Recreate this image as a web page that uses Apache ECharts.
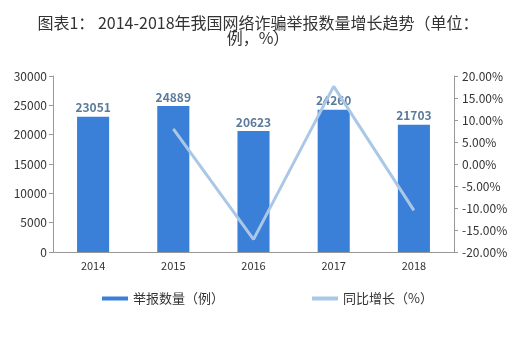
<!DOCTYPE html>
<html><head><meta charset="utf-8">
<script src="https://cdn.jsdelivr.net/npm/echarts@6/dist/echarts.min.js"></script>
<style>html,body{margin:0;padding:0;background:#fff}#c{width:516px;height:362px}</style>
</head><body><div id="c"></div>
<script>
var categories = ['2014','2015','2016','2017','2018'];
var reports = [23051, 24889, 20623, 24260, 21703];
var growth = [null, 7.97, -17.14, 17.64, -10.54];
var leftTicks = [0, 30000, 5000];
var rightTicks = [-20, 20, 5];

var chart = echarts.init(document.getElementById('c'));
var font = '"Noto Sans CJK SC","DejaVu Sans",sans-serif';
chart.setOption({
  animation: false,
  title: {
    text: '图表1： 2014-2018年我国网络诈骗举报数量增长趋势（单位：\n例，%）',
    left: 'center', top: 10,
    textStyle: {fontSize: 16, fontWeight: 'normal', color: '#333', fontFamily: font, lineHeight: 15}
  },
  legend: {
    bottom: 52, left: 97, itemGap: 88,
    itemWidth: 26, itemHeight: 4,
    textStyle: {fontSize: 13, color: '#333', fontFamily: font},
    data: [{name: '举报数量（例）', icon: 'rect'}, {name: '同比增长（%）', icon: 'rect'}]
  },
  grid: {left: 53, right: 62, top: 76, bottom: 110},
  xAxis: {
    type: 'category', data: categories,
    axisLine: {lineStyle: {color: '#999'}},
    axisTick: {show: false},
    axisLabel: {color: '#333', fontSize: 11, margin: 8, fontFamily: font}
  },
  yAxis: [{
    type: 'value', min: leftTicks[0], max: leftTicks[1], interval: leftTicks[2],
    axisLine: {show: true, lineStyle: {color: '#999'}},
    axisTick: {show: true, length: 4, lineStyle: {color: '#999'}},
    splitLine: {show: false},
    axisLabel: {color: '#333', fontSize: 12, margin: 6, fontFamily: font,
      formatter: function (v) { return String(v); }}
  }, {
    type: 'value', min: rightTicks[0], max: rightTicks[1], interval: rightTicks[2],
    axisLine: {show: true, lineStyle: {color: '#999'}},
    axisTick: {show: true, length: 4, lineStyle: {color: '#999'}},
    splitLine: {show: false},
    axisLabel: {color: '#333', fontSize: 12, margin: 8, fontFamily: font,
      formatter: function (v) { return v.toFixed(2) + '%'; }}
  }],
  series: [{
    name: '举报数量（例）', type: 'bar', data: reports, barWidth: '40%',
    itemStyle: {color: '#3a7fd8'},
    label: {show: true, position: 'top', distance: 3, color: '#5b7b9b', fontWeight: 'bold', fontSize: 12, fontFamily: font}
  }, {
    name: '同比增长（%）', type: 'line', yAxisIndex: 1, data: growth,
    showSymbol: false, symbol: 'none',
    lineStyle: {color: '#aac8e6', width: 3},
    itemStyle: {color: '#aac8e6'}
  }]
});
</script></body></html>
